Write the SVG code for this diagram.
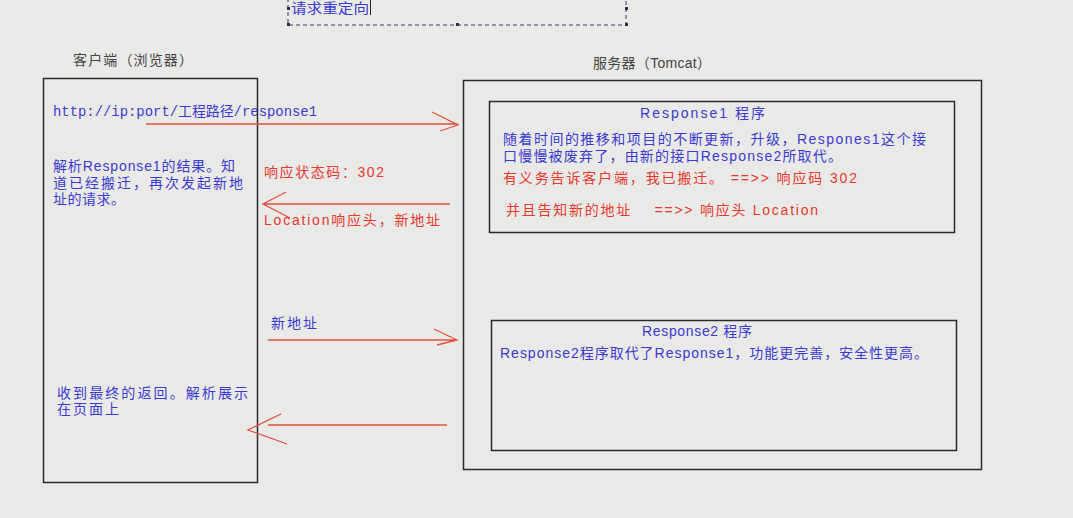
<svg xmlns="http://www.w3.org/2000/svg" width="1073" height="518" viewBox="0 0 1073 518">
<style>
.bx{fill:none;stroke:#2a2a2a;stroke-width:1.5}
.t{font-family:"Liberation Sans","Noto Sans CJK SC",sans-serif;font-size:14px}
.m{font-family:"Liberation Mono","Noto Sans CJK SC",monospace;font-size:14px}
.b{fill:#3a3ad0}
.r{fill:#e8382c}
.g{fill:#444}
.ar{fill:none;stroke:#e0503f;stroke-width:1.3}
</style>
<rect width="1073" height="518" fill="#e9eae8"/>
<g id="note">
<path d="M288 -2 V25 H626 V-2" fill="none" stroke="#3a3a5a" stroke-width="1" stroke-dasharray="4,3"/>
<g fill="#2a2a4a"><rect x="287" y="7" width="3" height="3"/><rect x="287" y="23" width="3" height="3"/><rect x="456" y="23" width="3" height="3"/><rect x="625" y="23" width="3" height="3"/><rect x="625" y="7" width="3" height="3"/></g>
<text class="t b" x="291" y="13" textLength="78" lengthAdjust="spacingAndGlyphs">请求重定向</text>
<line x1="370.5" y1="0" x2="370.5" y2="15" stroke="#222" stroke-width="1"/>
</g>
<g id="client">
<text class="t g" x="73" y="65" textLength="120">客户端（浏览器）</text>
<rect class="bx" x="43.5" y="78.5" width="214" height="404"/>
<text class="m b" x="53" y="116" textLength="264" lengthAdjust="spacingAndGlyphs">http://ip:port/工程路径/response1</text>
<text class="t b" x="53" y="171" textLength="182">解析Response1的结果。知</text>
<text class="t b" x="53" y="188" textLength="190">道已经搬迁，再次发起新地</text>
<text class="t b" x="53" y="204" textLength="72">址的请求。</text>
<text class="t b" x="57" y="398" textLength="191">收到最终的返回。解析展示</text>
<text class="t b" x="57" y="414" textLength="62">在页面上</text>
</g>
<g id="server">
<text class="t g" x="593" y="68" textLength="118">服务器（Tomcat）</text>
<rect class="bx" x="463.5" y="80.5" width="518" height="389"/>
</g>
<g id="response1">
<rect class="bx" x="489.5" y="101.5" width="465" height="131"/>
<text class="t b" x="640" y="118" textLength="125">Response1 程序</text>
<text class="t b" x="503" y="144" textLength="423">随着时间的推移和项目的不断更新，升级，Respones1这个接</text>
<text class="t b" x="503" y="161" textLength="339">口慢慢被废弃了，由新的接口Response2所取代。</text>
<text class="t r" x="503" y="183" textLength="354" xml:space="preserve">有义务告诉客户端，我已搬迁。 ==&gt;&gt; 响应码 302</text>
<text class="t r" x="506" y="215" textLength="312" xml:space="preserve">并且告知新的地址    ==&gt;&gt; 响应头 Location</text>
</g>
<g id="response2">
<rect class="bx" x="491.5" y="320.5" width="465" height="130"/>
<text class="t b" x="642" y="336" textLength="110">Response2 程序</text>
<text class="t b" x="500" y="358" textLength="428">Response2程序取代了Response1，功能更完善，安全性更高。</text>
</g>
<g id="connectors">
<path class="ar" d="M146 124 H458 M432 112 L458 125 L440 131"/>
<path class="ar" d="M450 204 H263 M286 192 L263 204 L290 218"/>
<path class="ar" d="M268 340 H457 M434 329 L457 340 L437 345"/>
<path class="ar" d="M447 425 H268 M281 414 L248 430 L287 444"/>
<text class="t r" x="264" y="177" textLength="120">响应状态码：302</text>
<text class="t r" x="264" y="225" textLength="176">Location响应头，新地址</text>
<text class="t b" x="271" y="328" textLength="46">新地址</text>
</g>
</svg>
